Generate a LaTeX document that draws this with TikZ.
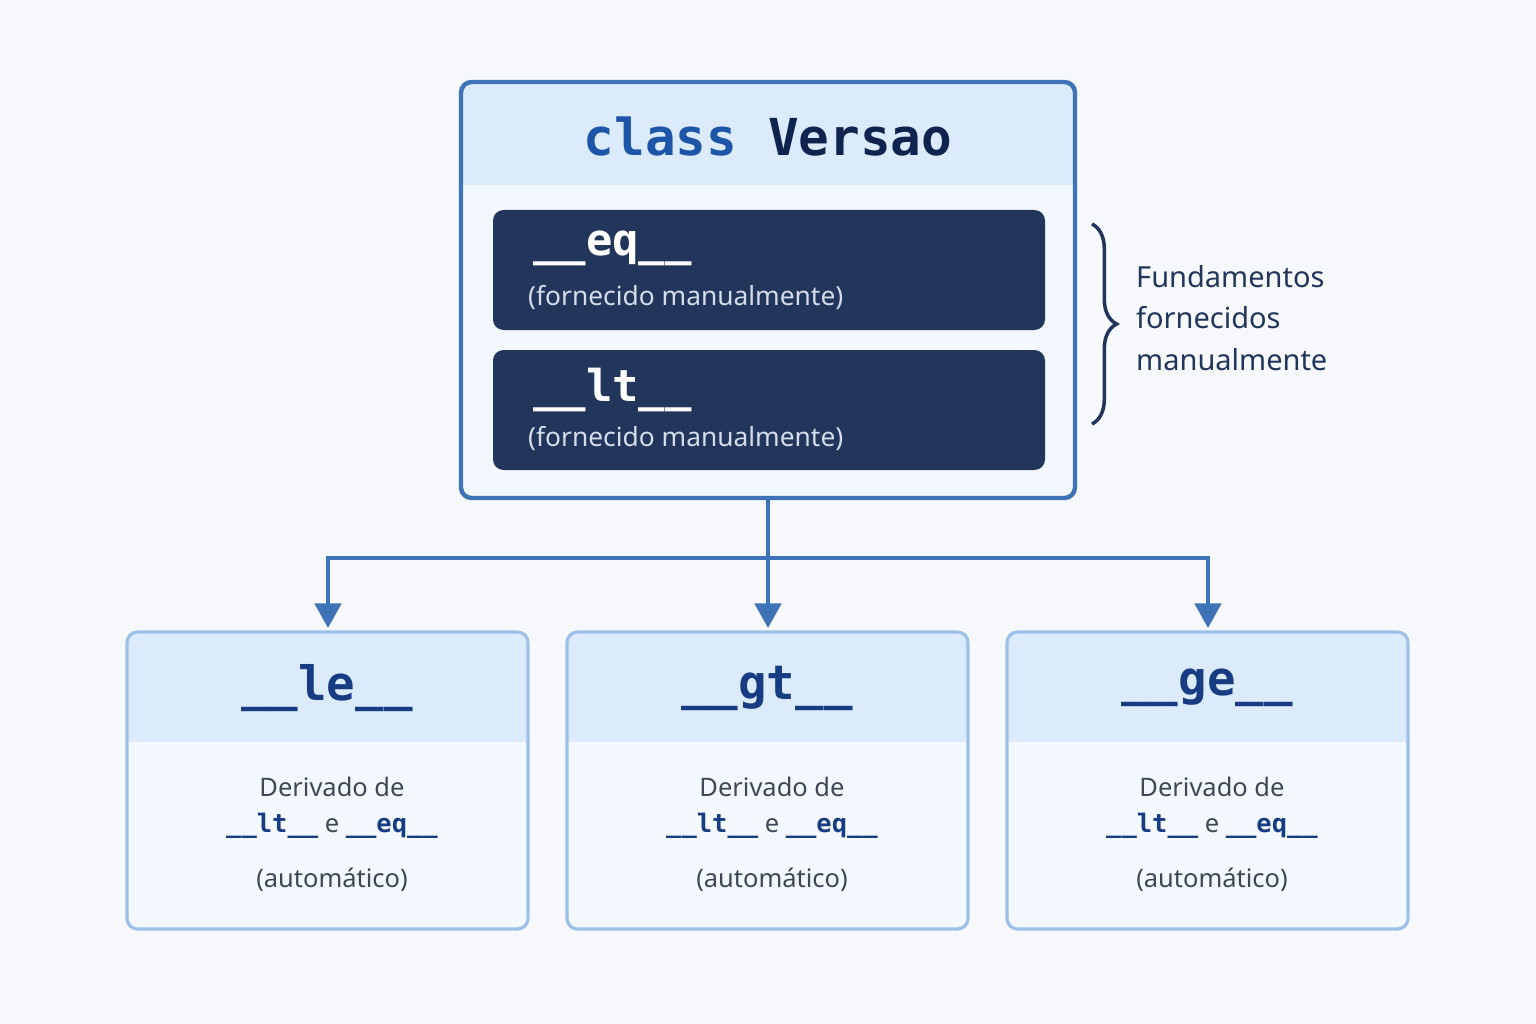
\documentclass[tikz,border=0pt]{standalone}
\usepackage{fontspec}
\setmainfont{Noto Sans}
\setmonofont{DejaVu Sans Mono}
\usetikzlibrary{calc,positioning,decorations.pathreplacing,arrows.meta}
\definecolor{bgc}{HTML}{F6F8FB}
\definecolor{edgeblue}{HTML}{3E73B8}
\definecolor{lightedge}{HTML}{9DC0E8}
\definecolor{headfill}{HTML}{DCEBFC}
\definecolor{bodyfill}{HTML}{F3F8FE}
\definecolor{darkbox}{HTML}{22355A}
\definecolor{navy}{HTML}{173C82}
\definecolor{kwblue}{HTML}{1D56A8}
\definecolor{greytext}{HTML}{3E4756}
\definecolor{subtext}{HTML}{D4DDEA}
\tikzset{
  method/.style={draw=none,fill=darkbox,rounded corners=6pt},
  link/.style={edgeblue,line width=2.2pt},
  tip/.style={-{Triangle[length=14pt,width=15pt]}},
  derived/.style={draw=lightedge,line width=1.8pt,rounded corners=6pt},
}
\begin{document}
\begin{tikzpicture}[x=0.02cm,y=-0.02cm]
  \useasboundingbox (0,0) rectangle (1536,1024);
  \fill [bgc] (0,0) rectangle (1536,1024);
  % class box
  \fill [bodyfill,rounded corners=6pt] (461,82) rectangle (1075,498);
  \fill [headfill,rounded corners=6pt] (461,82) rectangle (1075,140);
  \fill [headfill] (461,120) rectangle (1075,185);
  \draw [edgeblue,line width=2.5pt,rounded corners=6pt]
    (461,82) rectangle (1075,498);
  \node (title) at (768,137)
    {\fontsize{29}{34}\selectfont\ttfamily\bfseries
     \textcolor{kwblue}{class} \textcolor{navy!60!black}{Versao}};
  \coordinate (classbottom) at (768,498);
  % manual methods
  \fill [method] (493,210) rectangle (1045,330);
  \fill [method] (493,350) rectangle (1045,470);
  \node [anchor=west,white] (eq) at (527,248)
    {\fontsize{25}{30}\selectfont\ttfamily\bfseries \_\_eq\_\_};
  \node [anchor=west,subtext] (eqnote) at (522,298)
    {\fontsize{15}{18}\selectfont (fornecido manualmente)};
  \node [anchor=west,white] (lt) at (527,390)
    {\fontsize{25}{30}\selectfont\ttfamily\bfseries \_\_lt\_\_};
  \node [anchor=west,subtext] (ltnote) at (522,438)
    {\fontsize{15}{18}\selectfont (fornecido manualmente)};
  % brace
  \draw [darkbox,line width=2pt,decorate,decoration={brace,amplitude=14pt}]
    (1092,224) -- (1092,424);
  \node [anchor=west,align=left,darkbox,font=\fontsize{16.5}{23.5}\selectfont]
    (fund) at (1130,318) {Fundamentos\\fornecidos\\manualmente};
  % derived boxes
  \foreach \name/\x/\op in {le/127/le,gt/567/gt,ge/1007/ge}{
    \fill [bodyfill,rounded corners=6pt] (\x,632) rectangle ++(401,297);
    \fill [headfill,rounded corners=6pt] (\x,632) rectangle ++(401,60);
    \fill [headfill] (\x,670) rectangle ++(401,72);
    \draw [derived] (\x,632) rectangle ++(401,297);
    \node [navy] (\name) at ($(\x,688)+(200,0)$)
      {\fontsize{27}{32}\selectfont\ttfamily\bfseries \_\_\op\_\_};
    \node [greytext] (\name der) at ($(\x,787)+(205,0)$)
      {\fontsize{14.5}{18}\selectfont Derivado de};
    \node [greytext] (\name src) at ($(\x,826)+(205,0)$)
      {\fontsize{14.5}{18}\selectfont
       \textcolor{navy}{\ttfamily\bfseries\_\_lt\_\_} e
       \textcolor{navy}{\ttfamily\bfseries\_\_eq\_\_}};
    \node [greytext] (\name auto) at ($(\x,880)+(205,0)$)
      {\fontsize{14.5}{18}\selectfont (automático)};
    \coordinate (\name top) at ($(\x,628)+(201,0)$);
  }
  % connectors
  \coordinate (split) at (768,558);
  \draw [link,tip] (classbottom) -- (gttop);
  \draw [link,tip] (split) -| (letop);
  \draw [link,tip] (split) -| (getop);
\end{tikzpicture}
\end{document}
